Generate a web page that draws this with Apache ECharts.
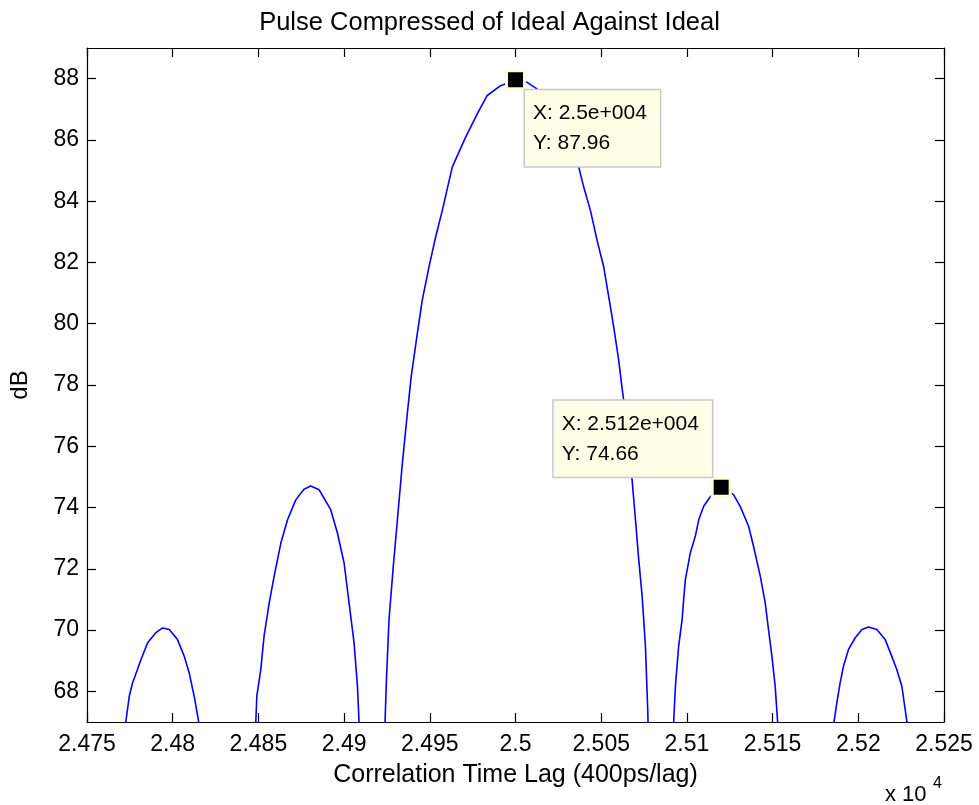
<!DOCTYPE html>
<html>
<head>
<meta charset="utf-8">
<script src="https://cdn.jsdelivr.net/npm/echarts@6/dist/echarts.min.js"></script>
<style>
html,body{margin:0;padding:0;background:#fff;}
#chart{width:979px;height:805px;}
</style>
</head>
<body>
<div id="chart"></div>
<script>
// ---- data ----
const titleText = 'Pulse Compressed of Ideal Against Ideal';
const xAxisName = 'Correlation Time Lag (400ps/lag)';
const yAxisName = 'dB';
const xMin = 24750, xMax = 25250, xStep = 50;
const yMin = 67, yMax = 89;
const yTicks = [68, 70, 72, 74, 76, 78, 80, 82, 84, 86, 88];

// lag (samples) of the compressed-pulse curve (values below 67 dB are clipped by the axes)
const lag = [
  24750,
  24772.7, 24774.7, 24776.6, 24779.5, 24781.5, 24785.4, 24790.2, 24794.1, 24798.0, 24802.8, 24806.7, 24809.6, 24812.5, 24815.1,
  24831,
  24848.5, 24849.1, 24851.4, 24853.3, 24856.3, 24859.2, 24863.1, 24867.0, 24871.8, 24876.6, 24880.5, 24885.4, 24892.2, 24896.1, 24900.0, 24902.9, 24905.8, 24907.8, 24908.7,
  24916,
  24923.9, 24924.7, 24926.2, 24928.7, 24931.1, 24934.0, 24936.9, 24939.2, 24942.7, 24945.6, 24949.5, 24953.4, 24957.3, 24963.1, 24970.9, 24977.7, 24983.5, 24991.3, 25000,
  25006.8, 25012.7, 25022.3, 25029.1, 25036.9, 25039.8, 25043.7, 25047.6, 25051.5, 25054.4, 25057.3, 25060.2, 25062.2, 25063.1, 25068.0, 25070.0, 25071.9, 25073.9, 25075.8, 25077.2,
  25084,
  25092.3, 25093.3, 25095.2, 25097.2, 25098.1, 25099.1, 25102.0, 25104.9, 25106.9, 25109.8, 25113.7, 25120, 25127.2, 25131.1, 25136.0, 25138.9, 25142.8, 25145.7, 25147.6, 25149.6, 25151.5, 25152.9,
  25169,
  25185.9, 25187.5, 25189.4, 25191.4, 25194.3, 25198.2, 25202.1, 25205.9, 25210.8, 25215.7, 25219.5, 25222.4, 25225.4, 25228.3,
  25250
];
const dB = [
  55,
  67.03, 67.85, 68.28, 68.72, 69.04, 69.59, 69.92, 70.07, 70.02, 69.69, 69.15, 68.61, 67.85, 67.03,
  50,
  67.03, 67.85, 68.72, 69.80, 70.89, 71.76, 72.84, 73.60, 74.25, 74.60, 74.70, 74.58, 73.93, 73.17, 72.19, 70.89, 69.59, 68.17, 67.03,
  50,
  67.03, 68.39, 70.34, 72.08, 73.60, 75.45, 77.08, 78.30, 79.68, 80.77, 81.85, 82.83, 83.70, 85.11, 86.09, 86.85, 87.45, 87.77, 87.96,
  87.88, 87.66, 86.85, 86.09, 85.11, 84.46, 83.70, 82.72, 81.85, 80.88, 79.90, 78.81, 77.89, 77.51, 74.91, 73.60, 72.30, 71.10, 69.48, 67.31,
  50,
  67.03, 68.17, 69.48, 70.34, 71.00, 71.65, 72.52, 73.06, 73.60, 74.04, 74.36, 74.66, 74.42, 74.04, 73.39, 72.73, 71.76, 70.89, 70.02, 69.15, 68.17, 67.03,
  50,
  67.03, 67.63, 68.28, 68.83, 69.37, 69.75, 70.02, 70.10, 70.02, 69.69, 69.15, 68.72, 68.17, 67.03,
  55
];

// data tips
const tipLag = [25000, 25120];
const tipDb = [87.96, 74.66];
const tipXText = ['2.5e+004', '2.512e+004'];

// ---- chart ----
const FONT = 'Liberation Sans';
const chart = echarts.init(document.getElementById('chart'), null, {renderer: 'canvas'});

const curve = lag.map((x, i) => [x, dB[i]]);
const tipLabelPos = [
  {position: [20, 21], align: 'left', verticalAlign: 'top'},
  {position: [-157, 0], align: 'left', verticalAlign: 'bottom'}
];
const tips = tipLag.map((x, i) => ({
  value: [x, tipDb[i]],
  label: tipLabelPos[i]
}));

const xFmt = v => String(Number((v / 1e4).toFixed(4)));

const axisCommon = {
  axisLine: {show: true, onZero: false, lineStyle: {color: '#000', width: 1.2}},
  axisTick: {show: true, inside: true, length: 9, lineStyle: {color: '#000', width: 1.2}},
  splitLine: {show: false}
};

chart.setOption({
  animation: false,
  backgroundColor: '#ffffff',
  title: {
    text: titleText, left: 'center', top: 5,
    textStyle: {fontFamily: FONT, fontSize: 25.5, fontWeight: 'normal', color: '#000'}
  },
  grid: {left: 87, right: 35, top: 48, bottom: 83},
  xAxis: [
    Object.assign({}, axisCommon, {
      type: 'value', position: 'bottom', min: xMin, max: xMax, interval: xStep,
      name: xAxisName, nameLocation: 'middle', nameGap: 41,
      nameTextStyle: {fontFamily: FONT, fontSize: 25, color: '#000'},
      axisLabel: {margin: 11, formatter: xFmt, fontFamily: FONT, fontSize: 23, color: '#000'}
    }),
    Object.assign({}, axisCommon, {
      type: 'value', position: 'top', min: xMin, max: xMax, interval: xStep,
      axisLabel: {show: false}
    })
  ],
  yAxis: [
    Object.assign({}, axisCommon, {
      type: 'value', position: 'left', min: yMin, max: yMax,
      name: yAxisName, nameLocation: 'middle', nameGap: 55, nameRotate: 90,
      nameTextStyle: {fontFamily: FONT, fontSize: 24, color: '#000'},
      axisTick: Object.assign({}, axisCommon.axisTick, {customValues: yTicks}),
      axisLabel: {customValues: yTicks, margin: 8, fontFamily: FONT, fontSize: 23, color: '#000'}
    }),
    Object.assign({}, axisCommon, {
      type: 'value', position: 'right', min: yMin, max: yMax,
      axisTick: Object.assign({}, axisCommon.axisTick, {customValues: yTicks}),
      axisLabel: {show: false, customValues: yTicks}
    })
  ],
  graphic: [
    {type: 'text', x: 885, y: 795, style: {text: 'x 10', fill: '#000', fontFamily: FONT, fontSize: 22, verticalAlign: 'middle', align: 'left'}},
    {type: 'text', x: 933, y: 784, style: {text: '4', fill: '#000', fontFamily: FONT, fontSize: 16, verticalAlign: 'middle', align: 'left'}}
  ],
  series: [
    {
      type: 'line', data: curve, xAxisIndex: 0, yAxisIndex: 0,
      showSymbol: false, clip: true, smooth: false,
      lineStyle: {color: '#0000ff', width: 1.6},
      z: 2
    },
    {
      type: 'scatter', data: tips, xAxisIndex: 0, yAxisIndex: 0,
      symbol: 'rect', symbolSize: 18, clip: false,
      itemStyle: {color: '#000', borderColor: '#ffffd8', borderWidth: 3, opacity: 1},
      label: {
        show: true,
        formatter: p => 'X: ' + tipXText[p.dataIndex] + '\nY: ' + tipDb[p.dataIndex].toFixed(2),
        fontFamily: FONT, fontSize: 21, lineHeight: 30, color: '#000',
        backgroundColor: '#ffffe8', borderColor: '#c8c8c8', borderWidth: 1.5,
        padding: [8, 13, 8, 8]
      },
      emphasis: {disabled: true},
      z: 5
    }
  ]
});
</script>
</body>
</html>
